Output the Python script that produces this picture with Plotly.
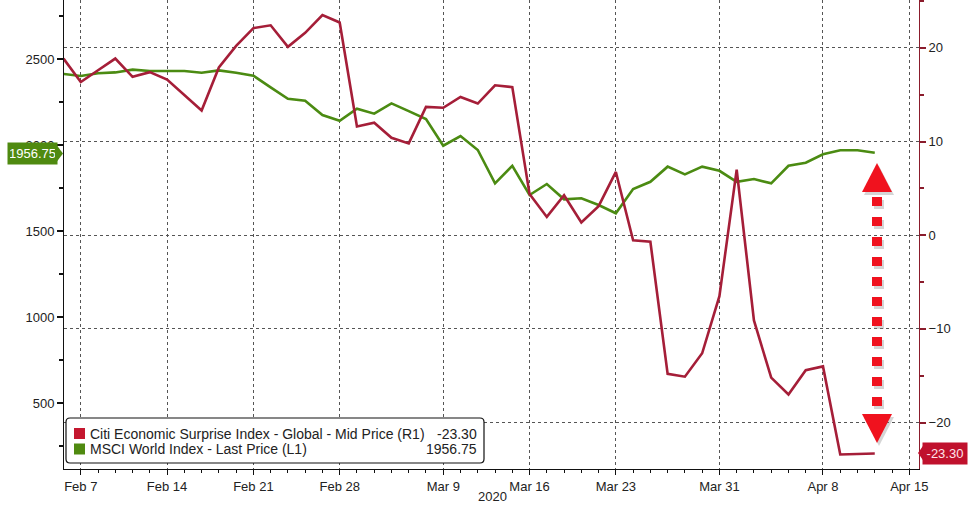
import plotly.graph_objects as go

# ---------------- data ----------------
dates = [
    "2020-02-06", "2020-02-07",
    "2020-02-10", "2020-02-11", "2020-02-12", "2020-02-13", "2020-02-14",
    "2020-02-17", "2020-02-18", "2020-02-19", "2020-02-20", "2020-02-21",
    "2020-02-24", "2020-02-25", "2020-02-26", "2020-02-27", "2020-02-28",
    "2020-03-02", "2020-03-03", "2020-03-04", "2020-03-05", "2020-03-06",
    "2020-03-09", "2020-03-10", "2020-03-11", "2020-03-12", "2020-03-13",
    "2020-03-16", "2020-03-17", "2020-03-18", "2020-03-19", "2020-03-20",
    "2020-03-23", "2020-03-24", "2020-03-25", "2020-03-26", "2020-03-27",
    "2020-03-30", "2020-03-31", "2020-04-01", "2020-04-02", "2020-04-03",
    "2020-04-06", "2020-04-07", "2020-04-08", "2020-04-09", "2020-04-10",
    "2020-04-13",
]
extra_minor_days = ["2020-04-14", "2020-04-15"]

citi_cesi = [
    18.85, 16.35,
    17.6, 18.85, 16.9, 17.4, 16.6,
    14.9, 13.3, 17.9, 20.2, 22.1,
    22.4, 20.1, 21.6, 23.5, 22.7,
    11.6, 12.0, 10.4, 9.8, 13.7,
    13.6, 14.75, 14.05, 16.0, 15.8,
    4.4, 1.95, 4.27, 1.35, 3.1,
    6.75, -0.55, -0.7, -14.8, -15.1,
    -12.6, -6.5, 7.0, -9.1, -15.2,
    -17.0, -14.4, -14.0, -23.4, -23.35,
    -23.30,
]

msci_world = [
    2415, 2403,
    2419, 2424, 2440, 2432, 2432,
    2432, 2422, 2436, 2422, 2405,
    2337, 2271, 2259, 2176, 2143,
    2213, 2184, 2244, 2199, 2153,
    1998, 2054, 1973, 1779, 1881,
    1711, 1775, 1686, 1692, 1653,
    1605, 1746, 1788, 1876, 1831,
    1876, 1852, 1788, 1804, 1779,
    1881, 1899, 1948, 1971, 1971,
    1956.75,
]

tick_dates = ["2020-02-07", "2020-02-14", "2020-02-21", "2020-02-28", "2020-03-09",
              "2020-03-16", "2020-03-23", "2020-03-31", "2020-04-08", "2020-04-15"]
tick_labels = ["Feb 7", "Feb 14", "Feb 21", "Feb 28", "Mar 9",
               "Mar 16", "Mar 23", "Mar 31", "Apr 8", "Apr 15"]

left_ticks = [500, 1000, 1500, 2000, 2500]
right_ticks = [-20, -10, 0, 10, 20]

citi_name = "Citi Economic Surprise Index - Global - Mid Price (R1)"
msci_name = "MSCI World Index - Last Price (L1)"
citi_last = "-23.30"
msci_last = "1956.75"

# ---------------- style ----------------
RED = "#a51e38"
GREEN = "#4b8b12"
ARROW = "#f0121e"
FONT = "Liberation Sans, Arial, sans-serif"

W, H = 976, 506
L, R, T, B = 64, 919, 0, 469


def px(x):
    return (x - L) / (R - L)


def py(y):
    return (B - y) / (B - T)


fig = go.Figure()
fig.add_trace(go.Scatter(x=dates, y=msci_world, mode="lines", name=msci_name,
                         line=dict(color=GREEN, width=2.6), yaxis="y"))
fig.add_trace(go.Scatter(x=dates, y=citi_cesi, mode="lines", name=citi_name,
                         line=dict(color=RED, width=2.6), yaxis="y2"))

shapes = []
annotations = []

# legend box (rounded)
x0, y0, x1, y1, r = 66, 418, 484, 463, 4
path = (f"M {px(x0 + r)},{py(y0)} L {px(x1 - r)},{py(y0)} Q {px(x1)},{py(y0)} {px(x1)},{py(y0 + r)} "
        f"L {px(x1)},{py(y1 - r)} Q {px(x1)},{py(y1)} {px(x1 - r)},{py(y1)} "
        f"L {px(x0 + r)},{py(y1)} Q {px(x0)},{py(y1)} {px(x0)},{py(y1 - r)} "
        f"L {px(x0)},{py(y0 + r)} Q {px(x0)},{py(y0)} {px(x0 + r)},{py(y0)} Z")
shapes.append(dict(type="path", xref="paper", yref="paper", path=path,
                   fillcolor="white", line=dict(color="#111", width=1.2), layer="above"))
# swatches
for (cy, col) in [(433.5, "#c4172f"), (449, "#4f8a10")]:
    shapes.append(dict(type="rect", xref="paper", yref="paper",
                       x0=px(74), x1=px(85), y0=py(cy - 5.5), y1=py(cy + 5.5),
                       fillcolor=col, line=dict(width=0), layer="above"))
for (cy, name, val) in [(433.5, citi_name, citi_last), (449, msci_name, msci_last)]:
    annotations.append(dict(x=px(88), y=py(cy), xref="paper", yref="paper", text=name,
                            showarrow=False, xanchor="left", yanchor="middle",
                            font=dict(family=FONT, size=14, color="#222")))
    annotations.append(dict(x=px(479), y=py(cy), xref="paper", yref="paper", text=val,
                            showarrow=False, xanchor="right", yanchor="middle",
                            font=dict(family=FONT, size=14, color="#222")))

# left last-value label (green)
shapes.append(dict(type="path", xref="paper", yref="paper",
                   path=f"M {px(55)},{py(143)} L {px(63)},{py(153.5)} L {px(55)},{py(164)} Z",
                   fillcolor="#4f8a10", line=dict(width=0), layer="above"))
annotations.append(dict(x=px(32.5), y=py(153.5), xref="paper", yref="paper", text=msci_last,
                        showarrow=False, xanchor="center", yanchor="middle",
                        width=45, height=17, borderpad=2, bgcolor="#4f8a10",
                        font=dict(family=FONT, size=13, color="white")))

# right last-value label (red)
shapes.append(dict(type="path", xref="paper", yref="paper",
                   path=f"M {px(925)},{py(443)} L {px(918)},{py(453)} L {px(925)},{py(463)} Z",
                   fillcolor="#c0112d", line=dict(width=0), layer="above"))
annotations.append(dict(x=px(945), y=py(453), xref="paper", yref="paper", text=citi_last,
                        showarrow=False, xanchor="center", yanchor="middle",
                        width=40, height=17, borderpad=2, bgcolor="#c0112d",
                        font=dict(family=FONT, size=13, color="#ffe4ea")))

# year label
annotations.append(dict(x=px(492), y=py(496), xref="paper", yref="paper", text="2020",
                        showarrow=False, xanchor="center", yanchor="middle",
                        font=dict(family=FONT, size=13, color="#222")))

# red dotted double arrow (with faint shadow)
ax = 877
for (dx, dy, col, op) in [(2, 3, "#888", 0.35), (0, 0, ARROW, 1.0)]:
    shapes.append(dict(type="line", xref="paper", yref="paper",
                       x0=px(ax + dx), x1=px(ax + dx), y0=py(197 + dy), y1=py(412 + dy),
                       line=dict(color=col, width=10, dash="9px,11px"), opacity=op, layer="above"))
    shapes.append(dict(type="path", xref="paper", yref="paper",
                       path=(f"M {px(ax + dx)},{py(163 + dy)} L {px(ax + dx + 15)},{py(192 + dy)} "
                             f"L {px(ax + dx - 15)},{py(192 + dy)} Z"),
                       fillcolor=col, opacity=op, line=dict(width=0), layer="above"))
    shapes.append(dict(type="path", xref="paper", yref="paper",
                       path=(f"M {px(ax + dx - 15)},{py(414 + dy)} L {px(ax + dx + 15)},{py(414 + dy)} "
                             f"L {px(ax + dx)},{py(443 + dy)} Z"),
                       fillcolor=col, opacity=op, line=dict(width=0), layer="above"))

tickfont = dict(family=FONT, size=13, color="#222")

fig.update_layout(
    width=W, height=H,
    margin=dict(l=L, r=W - R, t=T, b=H - B),
    paper_bgcolor="white", plot_bgcolor="white",
    showlegend=False, hovermode=False,
    xaxis=dict(
        type="date",
        range=["2020-02-06 00:40", "2020-04-15 13:30"],
        rangebreaks=[dict(bounds=["sat", "mon"])],
        tickmode="array", tickvals=tick_dates, ticktext=tick_labels,
        showgrid=True, gridcolor="#555", griddash="dot", gridwidth=1,
        ticks="outside", ticklen=5, tickcolor="#111", tickwidth=1,
        showline=True, linecolor="#111", linewidth=1,
        zeroline=False, tickfont=tickfont,
        minor=dict(tickmode="array", tickvals=dates + extra_minor_days,
                   ticks="outside", ticklen=3, tickcolor="#111", showgrid=False),
    ),
    yaxis=dict(
        range=[118, 2845],
        tickmode="array", tickvals=left_ticks,
        showgrid=False, zeroline=False,
        showline=True, linecolor="#111", linewidth=1,
        ticks="outside", ticklen=6, tickwidth=2, tickcolor="#111",
        tickfont=tickfont,
        minor=dict(dtick=250, tick0=0, ticks="outside", ticklen=4, tickcolor="#111", showgrid=False),
    ),
    yaxis2=dict(
        overlaying="y", side="right",
        range=[-24.95, 25.1],
        tickmode="array", tickvals=right_ticks,
        showgrid=True, gridcolor="#555", griddash="dot", gridwidth=1,
        zeroline=False,
        showline=True, linecolor="#8b1c2c", linewidth=1,
        ticks="outside", ticklen=6, tickwidth=2, tickcolor="#8b1c2c",
        tickfont=tickfont,
        minor=dict(dtick=5, tick0=0, ticks="outside", ticklen=4, tickcolor="#8b1c2c", showgrid=False),
    ),
    shapes=shapes,
    annotations=annotations,
)

fig.write_html("out.html",
               config={"displayModeBar": False, "staticPlot": True},
               post_script="document.body.style.margin='0';document.body.style.padding='0';")
